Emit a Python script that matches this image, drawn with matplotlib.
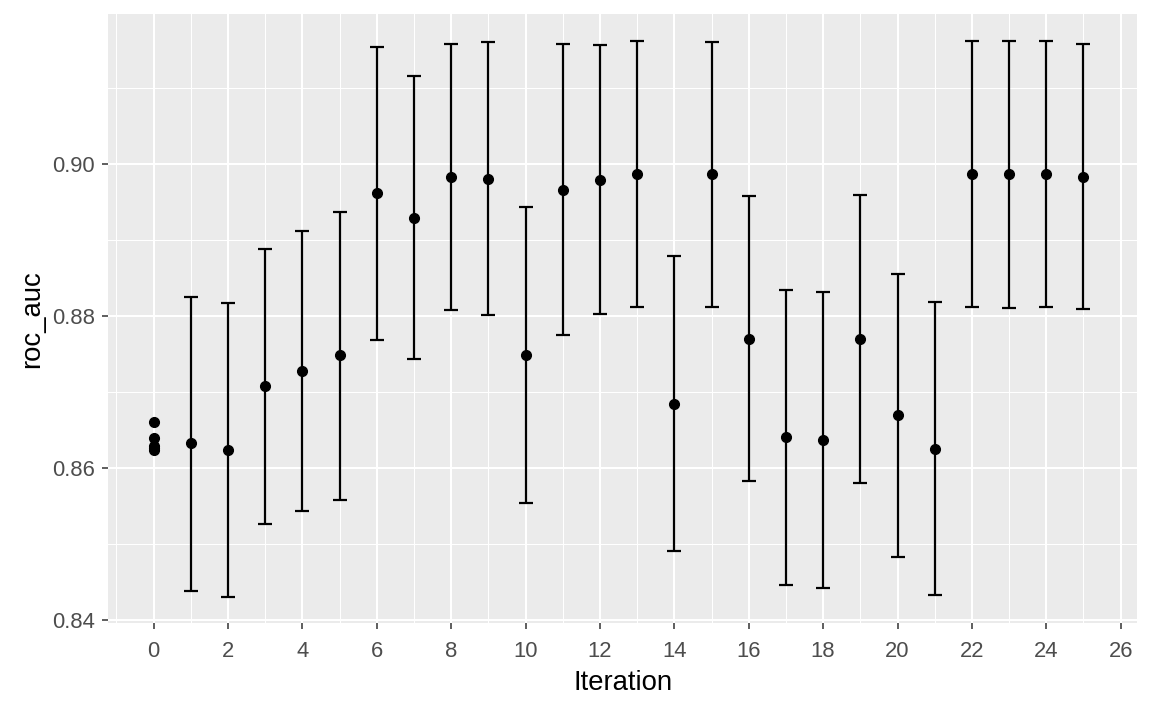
import matplotlib
matplotlib.use("Agg")
import matplotlib.pyplot as plt
from matplotlib.ticker import MultipleLocator
import numpy as np

plt.rcParams['font.family'] = ['Liberation Sans', 'DejaVu Sans']

# initial points (iteration 0, no error bars)
init_x = [0, 0, 0, 0, 0]
init_auc = [0.8660, 0.8639, 0.8628, 0.8626, 0.8624]

# search iterations: mean roc_auc with lower/upper bounds
iteration = list(range(1, 26))
mean_auc = [0.8632, 0.8624, 0.8707, 0.8727, 0.8748, 0.8961, 0.8929, 0.8983, 0.8980, 0.8748,
            0.8966, 0.8979, 0.8986, 0.8684, 0.8986, 0.8770, 0.8640, 0.8637, 0.8769, 0.8669,
            0.8625, 0.8986, 0.8986, 0.8987, 0.8983]
lower = [0.8438, 0.8430, 0.8526, 0.8543, 0.8558, 0.8768, 0.8743, 0.8807, 0.8801, 0.8553,
         0.8775, 0.8802, 0.8812, 0.8490, 0.8812, 0.8583, 0.8446, 0.8442, 0.8580, 0.8483,
         0.8432, 0.8812, 0.8810, 0.8812, 0.8809]
upper = [0.8825, 0.8817, 0.8888, 0.8912, 0.8937, 0.9153, 0.9116, 0.9158, 0.9160, 0.8943,
         0.9158, 0.9156, 0.9161, 0.8879, 0.9160, 0.8958, 0.8834, 0.8831, 0.8959, 0.8855,
         0.8818, 0.9161, 0.9162, 0.9161, 0.9158]

mean_auc = np.array(mean_auc)
yerr = [mean_auc - np.array(lower), np.array(upper) - mean_auc]

fig = plt.figure(figsize=(11.52, 7.11), dpi=100)
ax = fig.add_axes([0.094, 0.1233, 0.893, 0.8570])
ax.set_facecolor('#EBEBEB')

ax.errorbar(iteration, mean_auc, yerr=yerr, fmt='none', ecolor='black',
            elinewidth=1.6, capsize=5, capthick=1.6, zorder=3)
ax.plot(iteration, mean_auc, 'o', color='black', markersize=7, zorder=4)
ax.plot(init_x, init_auc, 'o', color='black', markersize=7, zorder=4)

ax.set_xlim(-1.22, 26.44)
ax.set_ylim(0.83953, 0.9197)
ax.xaxis.set_major_locator(MultipleLocator(2))
ax.xaxis.set_minor_locator(MultipleLocator(1))
ax.yaxis.set_minor_locator(MultipleLocator(0.01))
ax.set_yticks([0.84, 0.86, 0.88, 0.90])
ax.set_yticklabels(['0.84', '0.86', '0.88', '0.90'])

ax.grid(which='major', color='white', linewidth=1.5)
ax.grid(which='minor', color='white', linewidth=0.75)
ax.set_axisbelow(True)
for s in ax.spines.values():
    s.set_visible(False)

ax.tick_params(which='major', length=4.3, width=1.1, color='#333333',
               labelsize=15.8, labelcolor='#4D4D4D')
ax.tick_params(axis='x', pad=8.5)
ax.tick_params(axis='y', pad=5.5)
ax.tick_params(which='minor', length=0)

ax.set_xlabel('Iteration', fontsize=19.8, color='black', labelpad=6)
ax.set_ylabel('roc_auc', fontsize=19.8, color='black', labelpad=5)

fig.savefig('out.png', dpi=100)
